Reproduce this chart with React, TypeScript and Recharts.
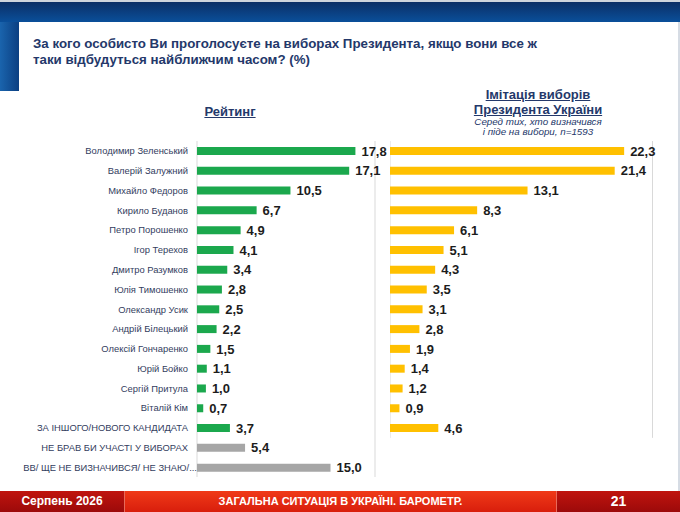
import { BarChart, Bar, XAxis, YAxis, CartesianGrid, Cell, LabelList } from "recharts";

// left block: "Рейтинг"
const CANDIDATES = [
  "Володимир Зеленський",
  "Валерій Залужний",
  "Михайло Федоров",
  "Кирило Буданов",
  "Петро Порошенко",
  "Ігор Терехов",
  "Дмитро Разумков",
  "Юлія Тимошенко",
  "Олександр Усик",
  "Андрій Білецький",
  "Олексій Гончаренко",
  "Юрій Бойко",
  "Сергій Притула",
  "Віталій Кім",
  "ЗА ІНШОГО/НОВОГО КАНДИДАТА",
];
const RATING = [17.8, 17.1, 10.5, 6.7, 4.9, 4.1, 3.4, 2.8, 2.5, 2.2, 1.5, 1.1, 1.0, 0.7, 3.7];

const ABSTAIN = ["НЕ БРАВ БИ УЧАСТІ У ВИБОРАХ", "ВВ/ ЩЕ НЕ ВИЗНАЧИВСЯ/ НЕ ЗНАЮ/..."];
const ABSTAIN_RATING = [5.4, 15.0];

// right block: "Імітація виборів Президента України"
const SIMULATION = [22.3, 21.4, 13.1, 8.3, 6.1, 5.1, 4.3, 3.5, 3.1, 2.8, 1.9, 1.4, 1.2, 0.9, 4.6];

const LEFT_TICKS = [0, 10, 20];
const RIGHT_TICKS = [0, 5, 10, 15, 20, 25];

const GREEN = "#1ba84d";
const GREY = "#a6a6a6";
const YELLOW = "#ffc000";
const NAVY = "#24386a";
const ROW = 19.79;

const fmt = (v: any) => Number(v).toFixed(1).replace(".", ",");

const NameTick = (props: any) => {
  const { x, y, payload } = props;
  const label: string = payload.value;
  // the truncated last label runs up to the bar start, like in the slide
  const shift = label.endsWith("...") ? 0 : -9;
  return (
    <text x={x + shift} y={y} dy={3.3} textAnchor="end" fontSize={9.4} fill="#333d5e">
      {label}
    </text>
  );
};

export default function App() {
  const leftData = [...CANDIDATES, ...ABSTAIN].map((name, i) => ({
    name,
    value: i < CANDIDATES.length ? RATING[i] : ABSTAIN_RATING[i - CANDIDATES.length],
  }));
  const rightData = CANDIDATES.map((name, i) => ({ name, value: SIMULATION[i] }));

  const leftH = ROW * leftData.length;
  const rightH = ROW * rightData.length;

  return (
    <div
      style={{
        position: "fixed",
        left: 0,
        top: 0,
        width: 680,
        height: 512,
        background: "#fff",
        overflow: "hidden",
        fontFamily: "Arial, 'Liberation Sans', sans-serif",
      }}
    >
      {/* frame */}
      <div style={{ position: "absolute", left: 0, top: 0, width: 680, height: 2, background: "#cfd5dd" }} />
      <div
        style={{
          position: "absolute",
          left: 0,
          top: 2,
          width: 680,
          height: 20,
          background: "linear-gradient(to bottom, #0b2f66, #0a4f9a)",
        }}
      />
      <div
        style={{
          position: "absolute",
          left: 0,
          top: 22,
          width: 19,
          height: 69,
          background: "linear-gradient(to right, #1a64ad, #0b3f82)",
        }}
      />
      <div style={{ position: "absolute", left: 678, top: 22, width: 2, height: 470, background: "#d6dce4" }} />

      {/* title */}
      <div
        style={{
          position: "absolute",
          left: 33,
          top: 36,
          fontSize: 13.3,
          lineHeight: "16px",
          fontWeight: "bold",
          color: NAVY,
          whiteSpace: "nowrap",
        }}
      >
        За кого особисто Ви проголосуєте на виборах Президента, якщо вони все ж
        <br />
        таки відбудуться найближчим часом? (%)
      </div>

      {/* column headers */}
      <div
        style={{
          position: "absolute",
          left: 130,
          width: 200,
          top: 104,
          textAlign: "center",
          fontSize: 13,
          fontWeight: "bold",
          color: NAVY,
          textDecoration: "underline",
        }}
      >
        Рейтинг
      </div>
      <div
        style={{
          position: "absolute",
          left: 438,
          width: 200,
          top: 86.5,
          textAlign: "center",
          color: NAVY,
        }}
      >
        <div style={{ fontSize: 13, fontWeight: "bold", textDecoration: "underline", lineHeight: "15px" }}>
          Імітація виборів
          <br />
          Президента України
        </div>
        <div style={{ fontSize: 9.8, fontStyle: "italic", lineHeight: "10px" }}>
          Серед тих, хто визначився
          <br />
          і піде на вибори, n=1593
        </div>
      </div>

      {/* left chart */}
      <div style={{ position: "absolute", left: 0, top: 141 }}>
        <BarChart
          width={400}
          height={leftH}
          data={leftData}
          layout="vertical"
          margin={{ top: 0, right: 25, bottom: 0, left: 0 }}
        >
          <CartesianGrid horizontal={false} stroke="#d9d9d9" />
          <XAxis type="number" domain={[0, 20]} ticks={LEFT_TICKS} tick={false} axisLine={false} tickLine={false} height={0} />
          <YAxis
            type="category"
            dataKey="name"
            width={197}
            axisLine={false}
            tickLine={false}
            tickSize={0}
            tickMargin={0}
            tick={<NameTick />}
            interval={0}
          />
          <Bar dataKey="value" barSize={8} isAnimationActive={false}>
            {leftData.map((d, i) => (
              <Cell key={d.name} fill={i < CANDIDATES.length ? GREEN : GREY} />
            ))}
            <LabelList
              dataKey="value"
              position="right"
              offset={6}
              formatter={fmt}
              style={{ fontSize: 13, fontWeight: "bold", fill: "#1c1c1c" }}
            />
          </Bar>
        </BarChart>
      </div>

      {/* right chart */}
      <div style={{ position: "absolute", left: 390, top: 141 }}>
        <BarChart
          width={290}
          height={rightH}
          data={rightData}
          layout="vertical"
          margin={{ top: 0, right: 27.5, bottom: 0, left: 0 }}
        >
          <CartesianGrid horizontal={false} stroke="#d9d9d9" />
          <XAxis type="number" domain={[0, 25]} ticks={RIGHT_TICKS} tick={false} axisLine={false} tickLine={false} height={0} />
          <YAxis type="category" dataKey="name" width={0} hide />
          <Bar dataKey="value" barSize={8} fill={YELLOW} isAnimationActive={false}>
            <LabelList
              dataKey="value"
              position="right"
              offset={6}
              formatter={fmt}
              style={{ fontSize: 13, fontWeight: "bold", fill: "#1c1c1c" }}
            />
          </Bar>
        </BarChart>
      </div>

      {/* footer */}
      <div
        style={{
          position: "absolute",
          left: 0,
          top: 491,
          width: 680,
          height: 21,
          display: "flex",
          color: "#fff",
          fontWeight: "bold",
        }}
      >
        <div
          style={{
            width: 124,
            background: "linear-gradient(to bottom, #c0140e, #9c0a0a)",
            fontSize: 12,
            lineHeight: "21px",
            textAlign: "center",
            borderRight: "1px solid #e86a5a",
          }}
        >
          Серпень 2026
        </div>
        <div
          style={{
            width: 431,
            background: "linear-gradient(to bottom, #f03a18, #d81e0c)",
            fontSize: 11,
            lineHeight: "21px",
            textAlign: "center",
            borderRight: "1px solid #e86a5a",
          }}
        >
          ЗАГАЛЬНА СИТУАЦІЯ В УКРАЇНІ. БАРОМЕТР.
        </div>
        <div
          style={{
            flex: 1,
            background: "linear-gradient(to bottom, #c0140e, #9c0a0a)",
            fontSize: 14,
            lineHeight: "21px",
            textAlign: "center",
          }}
        >
          21
        </div>
      </div>
    </div>
  );
}
